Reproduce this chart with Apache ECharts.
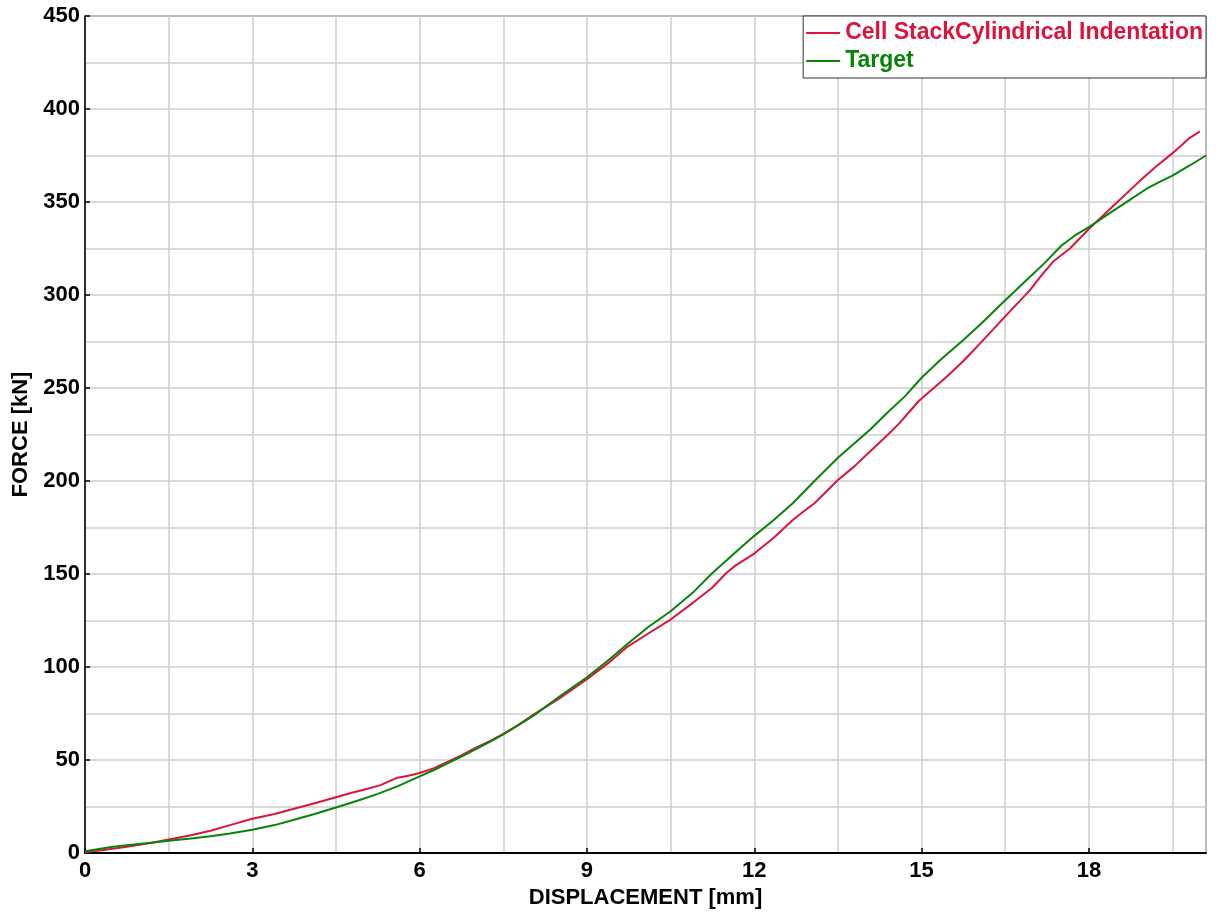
<!DOCTYPE html>
<html>
<head>
<meta charset="utf-8">
<script src="https://cdn.jsdelivr.net/npm/echarts@6/dist/echarts.min.js"></script>
<style>
  html, body { margin: 0; padding: 0; background: #fff; }
  #chart { width: 1226px; height: 914px; }
</style>
</head>
<body>
<div id="chart"></div>
<script>
var seriesNames = ['Cell StackCylindrical Indentation', 'Target'];

var dispCell = [0, 0.3, 0.75, 1.2, 1.5, 1.9, 2.25, 2.6, 3.0, 3.4, 3.75, 4.1, 4.5, 4.8, 5.0, 5.3, 5.6, 5.8, 6.0, 6.25, 6.5, 6.75, 7.0, 7.25, 7.5, 7.75, 8.05, 8.5, 9.0, 9.4, 9.73, 10.1, 10.5, 10.9, 11.24, 11.5, 11.66, 12.0, 12.35, 12.69, 12.9, 13.08, 13.5, 13.8, 14.08, 14.38, 14.6, 14.95, 15.45, 15.75, 16.05, 16.5, 16.94, 17.15, 17.36, 17.66, 18.0, 18.44, 18.92, 19.2, 19.49, 19.81, 19.99];
var forceCell = [0.5, 1.5, 3.4, 5.5, 7.3, 9.5, 12, 15, 18.4, 21, 23.8, 26.6, 30, 32.5, 34, 36.5, 40.5, 41.5, 43, 45.5, 49, 52.5, 56.5, 60, 64, 68.5, 74.5, 83, 93.5, 102.5, 111, 118, 125.5, 134.5, 142.5, 150.5, 154.5, 161, 169.5, 179, 184, 188, 200.5, 208, 216, 224.5, 231, 243, 256, 264.5, 274, 288.5, 302.5, 310.5, 318, 325, 335.5, 348, 361.5, 369, 376, 384.5, 388];

var dispTarget = [0, 0.25, 0.5, 0.75, 1.1, 1.5, 1.9, 2.25, 2.6, 3.0, 3.4, 3.75, 4.1, 4.5, 4.9, 5.25, 5.6, 6.0, 6.25, 6.5, 6.75, 7.0, 7.25, 7.5, 7.75, 8.05, 8.5, 9.0, 9.4, 9.73, 10.1, 10.5, 10.9, 11.24, 11.66, 12.0, 12.35, 12.69, 13.08, 13.5, 14.08, 14.38, 14.7, 15.0, 15.35, 15.75, 16.1, 16.5, 16.94, 17.2, 17.51, 17.75, 18.0, 18.2, 18.44, 18.7, 19.03, 19.25, 19.49, 19.8, 20.1];
var forceTarget = [1, 2.2, 3.4, 4.2, 5.3, 6.6, 7.8, 9, 10.5, 12.5, 15, 17.9, 20.8, 24.5, 28.2, 31.8, 35.8, 41.2, 44.5, 48.2, 51.8, 55.7, 59.6, 63.8, 68.3, 74, 84, 94.5, 104, 112.5, 121.5, 130, 140, 150.3, 161.6, 170.5, 179, 188, 200, 212.5, 227.7, 236.6, 245.5, 255.5, 265.5, 275.8, 285.5, 297.2, 309.7, 317, 326.6, 332, 336.5, 340.5, 345.4, 350.5, 357, 360.5, 364, 369.5, 375];

function pairs(xs, ys) {
  var out = [];
  for (var i = 0; i < xs.length; i++) out.push([xs[i], ys[i]]);
  return out;
}

var colors = ['#dc143c', '#078407'];
var font = '"Liberation Sans", Arial, sans-serif';

var chart = echarts.init(document.getElementById('chart'));
var option = {
  backgroundColor: '#fff',
  animation: false,
  grid: {
    left: 85, right: 20, top: 16, bottom: 61,
    show: true, borderColor: '#111', borderWidth: 1
  },
  legend: {
    orient: 'vertical',
    right: 20, top: 16,
    padding: [5, 3, 5, 3],
    itemGap: 4,
    itemWidth: 34,
    itemHeight: 2,
    icon: 'rect',
    backgroundColor: '#fff',
    borderColor: '#333',
    borderWidth: 1,
    borderRadius: 0,
    align: 'left',
    textStyle: { fontFamily: font, fontWeight: 'bold', fontSize: 23, lineHeight: 24 },
    data: [
      { name: seriesNames[0], textStyle: { color: colors[0] } },
      { name: seriesNames[1], textStyle: { color: colors[1] } }
    ]
  },
  xAxis: [
    {
      type: 'value',
      min: 0, max: 20.1, interval: 3,
      name: 'DISPLACEMENT [mm]',
      nameLocation: 'middle',
      nameGap: 33,
      nameTextStyle: { fontFamily: font, fontWeight: 'bold', fontSize: 22, color: '#000' },
      axisLine: { onZero: false, lineStyle: { color: '#000', width: 2 } },
      axisTick: { show: true, inside: true, length: 5, lineStyle: { color: '#000', width: 1.5 } },
      axisLabel: { showMaxLabel: false, margin: 7, fontFamily: font, fontWeight: 'bold', fontSize: 22, color: '#000' },
      splitLine: { show: false }
    },
    {
      type: 'value',
      min: 0, max: 20.1, interval: 1.5,
      axisLine: { show: false },
      axisTick: { show: false },
      axisLabel: { show: false },
      splitLine: { show: true, lineStyle: { color: '#cdcdcd', width: 1.5 } }
    }
  ],
  yAxis: {
    type: 'value',
    min: 0, max: 450, interval: 50,
    name: 'FORCE [kN]',
    nameLocation: 'middle',
    nameGap: 48,
    nameTextStyle: { fontFamily: font, fontWeight: 'bold', fontSize: 22, color: '#000' },
    axisLine: { show: true, onZero: false, lineStyle: { color: '#000', width: 1.5 } },
    axisTick: { show: true, inside: true, length: 5, lineStyle: { color: '#000', width: 1.5 } },
    axisLabel: { margin: 5, fontFamily: font, fontWeight: 'bold', fontSize: 22, color: '#000' },
    minorTick: { show: false, splitNumber: 2 },
    splitLine: { show: true, lineStyle: { color: '#cdcdcd', width: 1.5 } },
    minorSplitLine: { show: true, lineStyle: { color: '#cdcdcd', width: 1.5 } }
  },
  series: [
    {
      name: seriesNames[0],
      type: 'line',
      xAxisIndex: 0,
      showSymbol: false,
      symbol: 'none',
      lineStyle: { color: colors[0], width: 2 },
      itemStyle: { color: colors[0] },
      data: pairs(dispCell, forceCell)
    },
    {
      name: seriesNames[1],
      type: 'line',
      xAxisIndex: 0,
      showSymbol: false,
      symbol: 'none',
      lineStyle: { color: colors[1], width: 2 },
      itemStyle: { color: colors[1] },
      data: pairs(dispTarget, forceTarget)
    }
  ]
};
chart.setOption(option);
</script>
</body>
</html>
